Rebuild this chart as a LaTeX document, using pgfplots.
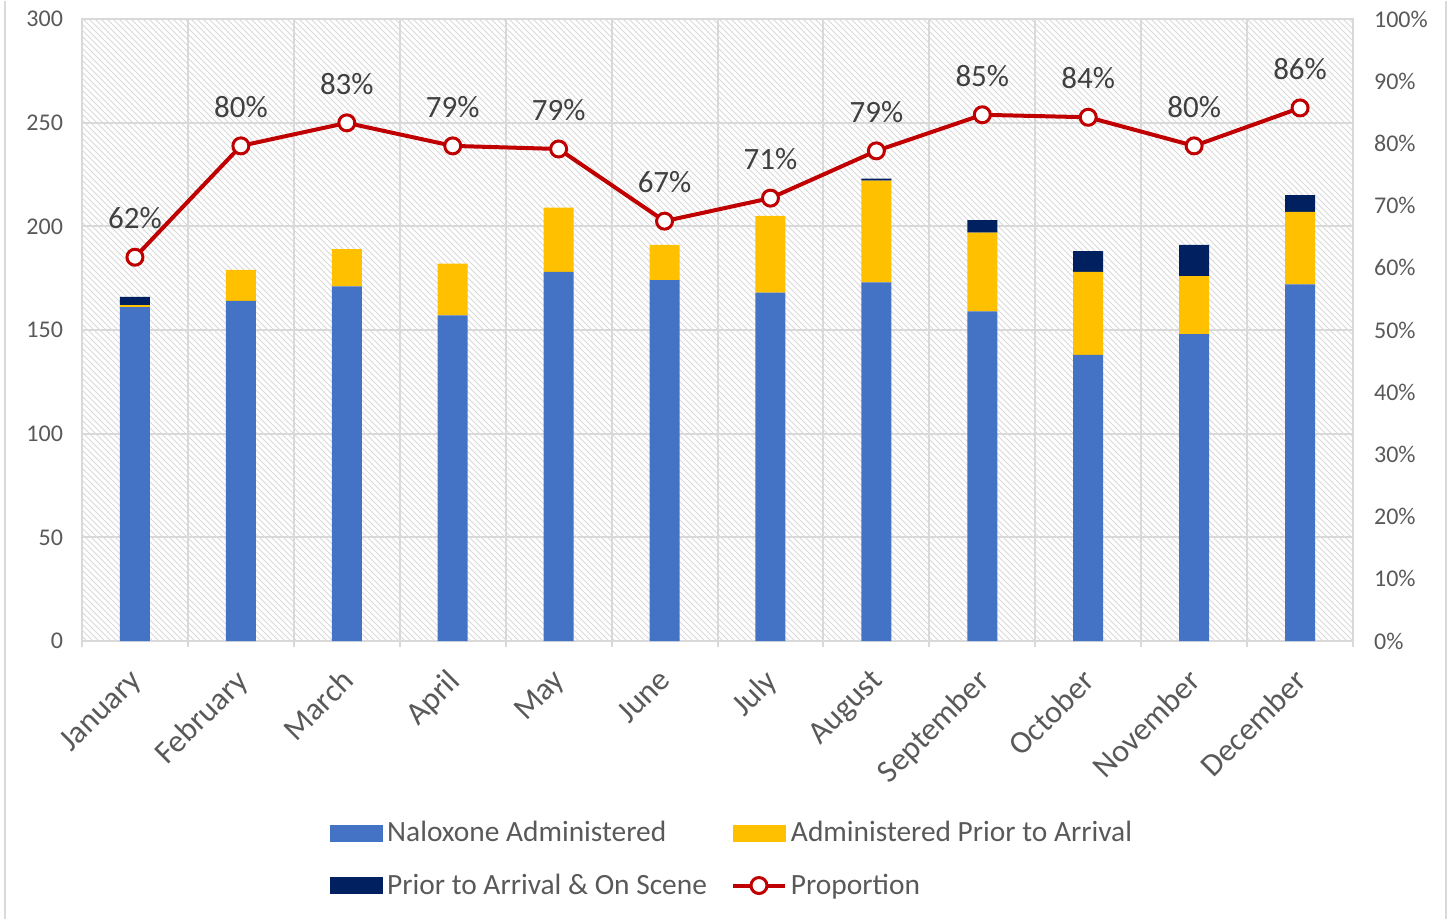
\documentclass[border=0pt]{standalone}
\usepackage{pgfplots}
\pgfplotsset{compat=1.18}
\usepackage{fontspec}
\setmainfont{Carlito}
\usetikzlibrary{patterns}
\definecolor{cblue}{HTML}{4472C4}
\definecolor{cyellow}{HTML}{FFC000}
\definecolor{cnavy}{HTML}{002060}
\definecolor{cred}{HTML}{C00000}
\definecolor{gridc}{HTML}{D9D9D9}
\definecolor{tgray}{HTML}{595959}
\definecolor{lgray}{HTML}{404040}
\pgfplotsset{
  propleg/.style={legend image code/.code={\draw[##1, mark repeat=2, mark phase=2] plot coordinates {(0pt,0pt) (13pt,0pt) (26pt,0pt)};}},
  boxleg/.style={legend image code/.code={\fill[#1] (0pt,-4pt) rectangle (26pt,4pt);}},
}
\begin{document}
\begin{tikzpicture}
\path (-41pt,-139pt) rectangle (683.5pt,320pt);
\draw[gridc, line width=1pt] (-38.25pt,-139pt) -- (-38.25pt,320pt);
\draw[gridc, line width=1pt] (682pt,-139pt) -- (682pt,320pt);
\begin{axis}[
  at={(0pt,0pt)}, anchor=south west,
  scale only axis, width=635.5pt, height=311pt,
  xmin=-0.5, xmax=11.5, ymin=0, ymax=300,
  ybar stacked, bar width=15pt,
  xtick={0,...,11},
  xticklabels={January,February,March,April,May,June,July,August,September,October,November,December},
  minor xtick={-0.5,0.5,...,11.5},
  ytick={0,50,...,300},
  /pgf/number format/assume math mode=true,
  xminorgrids=true, ymajorgrids=true,
  grid style={draw=gridc, line width=1pt},
  minor grid style={draw=gridc, line width=1pt},
  axis line style={draw=gridc, line width=1pt},
  axis background/.style={pattern=north west lines, pattern color=black!15},
  tick align=outside,
  major tick length=0pt, minor tick length=3pt,
  minor x tick style={draw=gridc, line width=1pt},
  xtick pos=bottom, ytick pos=left,
  ytick style={draw=none},
  yticklabel style={font=\fontsize{12}{14}\selectfont, text=tgray, xshift=-6pt},
  xticklabel style={font=\fontsize{16}{18}\selectfont, text=tgray, rotate=45, anchor=north east, xshift=-8.3pt, yshift=-3.3pt},
]
\addplot[fill=cblue, draw=none] coordinates {(0,161) (1,164) (2,171) (3,157) (4,178) (5,174) (6,168) (7,173) (8,159) (9,138) (10,148) (11,172)};
\addplot[fill=cyellow, draw=none] coordinates {(0,1) (1,15) (2,18) (3,25) (4,31) (5,17) (6,37) (7,49) (8,38) (9,40) (10,28) (11,35)};
\addplot[fill=cnavy, draw=none] coordinates {(0,4) (1,0) (2,0) (3,0) (4,0) (5,0) (6,0) (7,1) (8,6) (9,10) (10,15) (11,8)};
\end{axis}
\begin{axis}[
  at={(0pt,0pt)}, anchor=south west,
  scale only axis, width=635.5pt, height=311pt,
  xmin=-0.5, xmax=11.5, ymin=0, ymax=100,
  axis x line=none, axis y line*=right,
  y axis line style={draw=none},
  ytick={0,10,...,100},
  /pgf/number format/assume math mode=true,
  yticklabel={\pgfmathprintnumber{\tick}\%},
  ytick style={draw=none},
  yticklabel style={font=\fontsize{12}{14}\selectfont, text=tgray, anchor=west, xshift=7pt},
  legend columns=2,
  legend style={draw=none, fill=none, at={(121pt,-88pt)}, anchor=north west,
    font=\fontsize{14.7}{16}\selectfont, text=tgray,
    nodes={inner xsep=2pt, inner ysep=0pt},
    row sep=14.5pt,
    /tikz/every odd column/.append style={column sep=0pt},
    /tikz/every even column/.append style={column sep=10pt}},
  legend cell align=left,
]
\addlegendimage{boxleg=cblue}
\addlegendentry{Naloxone Administered}
\addlegendimage{boxleg=cyellow}
\addlegendentry{Administered Prior to Arrival}
\addlegendimage{boxleg=cnavy}
\addlegendentry{Prior to Arrival \& On Scene}
\addplot[cred, line width=2pt, mark=*, mark size=4pt,
  mark options={fill=white, draw=cred, line width=1.5pt},
  propleg,
  nodes near coords, point meta=explicit symbolic,
  nodes near coords style={font=\fontsize{15.5}{17}\selectfont, text=lgray, anchor=south, yshift=10pt}]
  table[meta=lab] {
x y lab
0 61.7 62\%
1 79.6 80\%
2 83.3 83\%
3 79.6 79\%
4 79.1 79\%
5 67.5 67\%
6 71.2 71\%
7 78.8 79\%
8 84.6 85\%
9 84.2 84\%
10 79.6 80\%
11 85.7 86\%
};
\addlegendentry{Proportion}
\end{axis}
\end{tikzpicture}
\end{document}
